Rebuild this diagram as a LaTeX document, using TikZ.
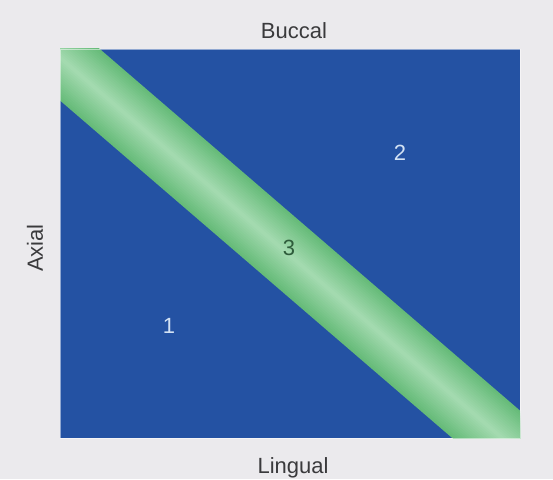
\documentclass[tikz,border=0pt]{standalone}
\usepackage{fontspec}
\setmainfont{Liberation Sans}
\definecolor{pagebg}{HTML}{EBEAED}
\definecolor{zoneblue}{HTML}{2452A3}
\definecolor{bandedge}{HTML}{66BB79}
\definecolor{bandmid}{HTML}{A3DAAF}
\definecolor{labelgray}{HTML}{3A3A3C}
\definecolor{zonetext}{HTML}{D3E2F4}
\definecolor{bandtext}{HTML}{2E5C3B}
\tikzset{side/.style={text=labelgray, font=\fontsize{22}{26}\selectfont, inner sep=0pt},
         zonenum/.style={text=zonetext, font=\fontsize{22}{26}\selectfont, inner sep=0pt}}

\begin{document}
\begin{tikzpicture}[x=1pt,y=1pt]
    \fill[pagebg] (0,0) rectangle (553,479);
    \useasboundingbox (0,0) rectangle (553,479);

    % tooth surface
    \coordinate (sw) at (60,41);
    \coordinate (ne) at (520,430);
    \fill[zoneblue] (sw) rectangle (ne);

    % green band, lighter along its middle
    \coordinate (bandA) at (-10,481.6);
    \coordinate (bandB) at (562,-10.6);
    \begin{scope}
        \clip (sw) rectangle (ne);
        \foreach \k in {0,...,16}{
            \pgfmathsetmacro\bw{65*(1-\k/17)}
            \pgfmathsetmacro\bc{100*\k/16}
            \draw[line width=\bw pt, bandmid!\bc!bandedge] (bandA) -- (bandB);
        }
    \end{scope}
    \draw[white, opacity=0.5, line width=0.8pt] (sw) rectangle (ne);

    \node[side, anchor=base] (buccal) at (294,440) {Buccal};
    \node[side, anchor=base] (lingual) at (293,6) {Lingual};
    \node[side, anchor=base, rotate=90] (axial) at (43,231) {Axial};

    \node[zonenum] (z1) at (169,153) {1};
    \node[zonenum] (z2) at (400,326) {2};
    \node[zonenum, text=bandtext] (z3) at (289,231) {3};
\end{tikzpicture}
\end{document}
